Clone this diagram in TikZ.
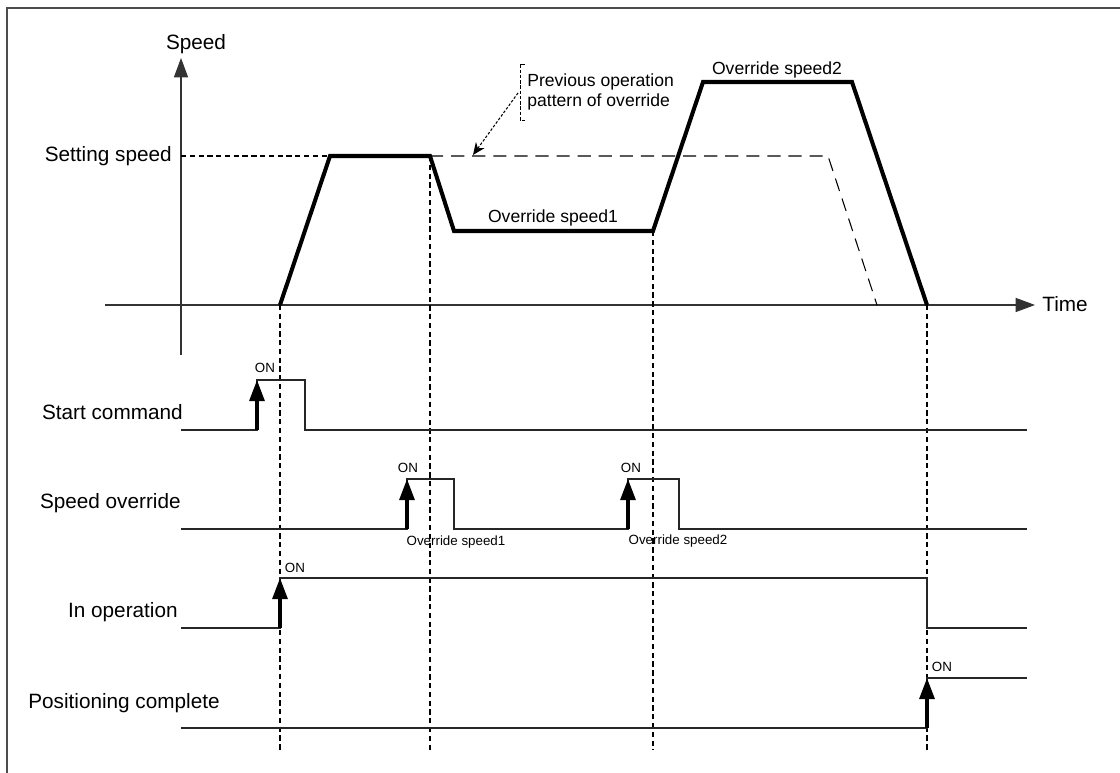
\documentclass[tikz,border=0pt]{standalone}
\usepackage{fontspec}
\setmainfont{Liberation Sans}
\usetikzlibrary{arrows.meta,calc,positioning}

\begin{document}
\begin{tikzpicture}[x=0.02cm, y=-0.02cm, >=Stealth,
    eje/.style={line width=0.6pt, draw=black!80},
    perfil/.style={line width=2.3pt, line join=miter},
    previo/.style={line width=0.6pt, dash pattern=on 7.5pt off 4.5pt},
    guia/.style={line width=0.6pt, dash pattern=on 3pt off 2pt},
    senal/.style={line width=0.7pt, draw=black!85},
    flecha/.style={-{Triangle[length=12pt,width=8.5pt]}, line width=1.9pt},
    punta/.style={-{Triangle[length=11pt,width=8pt]}},
    rotulo/.style={font=\fontsize{11.8}{14}\selectfont, inner sep=0pt},
    nota/.style={font=\fontsize{10}{11.4}\selectfont, inner sep=0pt},
    on/.style={font=\fontsize{7.6}{9}\selectfont, inner sep=0pt}]
    \useasboundingbox (0,0) rectangle (1120,773);
    % marco
    \draw[line width=0.8pt, black!70] (7,773) -- (7,8) -- (1120,8);

    % ejes
    \coordinate (ejev0) at (181,355);
    \coordinate (ejev1) at (181,58);
    \coordinate (ejeh0) at (105,305);
    \coordinate (ejeh1) at (1035,305);
    \draw[eje, punta] (ejev0) -- (ejev1);
    \draw[eje, punta] (ejeh0) -- (ejeh1);
    \node[rotulo] (vel) at (196,44) {Speed};
    \node[rotulo, anchor=west] (tiempo) at (1042,304) {Time};
    \node[rotulo, anchor=east] (fijada) at (172,156) {Setting speed};

    % perfil de velocidad
    \coordinate (p0) at (280,305);
    \coordinate (p1) at (330,156);
    \coordinate (p2) at (430,156);
    \coordinate (p3) at (454,231);
    \coordinate (p4) at (653,231);
    \coordinate (p5) at (703,82);
    \coordinate (p6) at (852,82);
    \coordinate (p7) at (927,305);
    \coordinate (q1) at (828,156);
    \coordinate (q2) at (877,305);
    \draw[guia] (181,156) -- (p1);
    \draw[previo] (p2) -- (q1) -- (q2);
    \draw[perfil] (p0) -- (p1) -- (p2) -- (p3) -- (p4) -- (p5) -- (p6) -- (p7);
    \node[nota] (ov1) at (553,218) {Override speed1};
    \node[nota] (ov2) at (777,70) {Override speed2};

    % nota del patron anterior
    \node[nota, anchor=west, align=left] (previa) at (527,92) {Previous operation\\pattern of override};
    \draw[line width=0.5pt, dash pattern=on 2pt off 1pt] (525,64) -- (520,64) -- (520,120) -- (525,120);
    \coordinate (nota0) at (518,93);
    \coordinate (nota1) at (473,155);
    \draw[line width=0.6pt, dash pattern=on 1.5pt off 1pt, -{Stealth[length=7pt,width=6pt]}] (nota0) -- (nota1);

    % guias verticales
    \draw[guia] (p0) -- (280,752);
    \draw[guia] (p2) -- (430,750);
    \draw[guia] (p4) -- (653,750);
    \draw[guia] (p7) -- (927,752);

    % Start command
    \node[rotulo, anchor=east] (arranque) at (183,412) {Start command};
    \draw[senal] (181,430) -- (257,430) -- (257,380) -- (305,380) -- (305,430) -- (1027,430);
    \draw[flecha] (257,430) -- (257,380);
    \node[on] (on1) at (265,368) {ON};

    % Speed override
    \node[rotulo, anchor=east] (cambio) at (181,503) {Speed override};
    \draw[senal] (181,529) -- (407,529) -- (407,479) -- (454,479) -- (454,529)
      -- (628,529) -- (628,479) -- (679,479) -- (679,529) -- (1027,529);
    \draw[flecha] (407,529) -- (407,479);
    \draw[flecha] (628,529) -- (628,479);
    \node[on] (on2) at (408,468) {ON};
    \node[on] (on3) at (631,468) {ON};
    \node[on] (sv1) at (456,542) {Override speed1};
    \node[on] (sv2) at (678,541) {Override speed2};

    % In operation
    \node[rotulo, anchor=east] (marcha) at (178,612) {In operation};
    \draw[senal] (181,628) -- (280,628) -- (280,578) -- (927,578) -- (927,628) -- (1027,628);
    \draw[flecha] (280,628) -- (280,578);
    \node[on] (on4) at (295,568) {ON};

    % Positioning complete
    \node[rotulo, anchor=east] (fin) at (220,703) {Positioning complete};
    \draw[senal] (181,728) -- (927,728) -- (927,678) -- (1027,678);
    \draw[flecha] (927,728) -- (927,678);
    \node[on] (on5) at (942,667) {ON};
  \end{tikzpicture}
\end{document}
